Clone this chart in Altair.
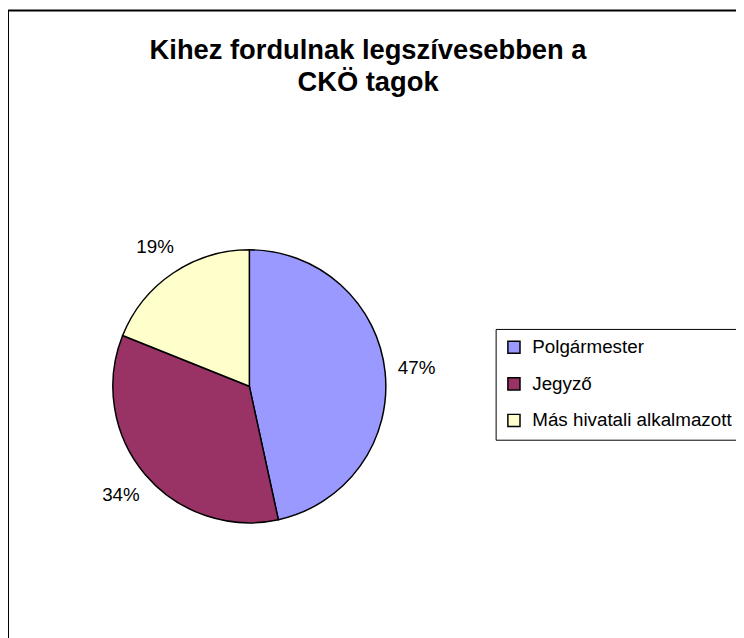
import altair as alt
import pandas as pd

# Data
categories = ["Polgármester", "Jegyző", "Más hivatali alkalmazott"]
values = [46.5, 34.4, 18.9]
labels = ["47%", "34%", "19%"]
colors = ["#9999FF", "#993366", "#FFFFCC"]
order = [0, 1, 2]

title_lines = ["Kihez fordulnak legszívesebben a", "CKÖ tagok"]

df = pd.DataFrame({"cat": categories, "value": values, "label": labels, "order": order})

FONT = "Liberation Sans"
CX, CY = 244, 379

base = alt.Chart(df).encode(
    theta=alt.Theta("value:Q", stack=True),
    order=alt.Order("order:Q"),
)

pie = base.mark_arc(radius=138, stroke="black", strokeWidth=1.5).encode(
    color=alt.Color(
        "cat:N",
        sort=categories,
        scale=alt.Scale(domain=categories, range=colors),
        legend=alt.Legend(
            orient="none",
            legendX=493,
            legendY=321,
            title=None,
            symbolType="square",
            symbolSize=150,
            symbolStrokeColor="black",
            symbolStrokeWidth=1.5,
            symbolOpacity=1,
            labelFontSize=19,
            labelFont=FONT,
            labelColor="black",
            labelLimit=0,
            labelOffset=9,
            rowPadding=17,
            padding=9,
            strokeColor="black",
            fillColor="white",
        ),
    ),
    x=alt.value(CX),
    y=alt.value(CY),
)

text = base.mark_text(radius=170, fontSize=19, font=FONT, color="black").encode(
    text="label:N",
    x=alt.value(CX),
    y=alt.value(CY),
)

border = alt.Chart(pd.DataFrame({"a": [0]})).mark_rect(
    fill=None, stroke="black", strokeWidth=2
).encode(
    x=alt.value(0), x2=alt.value(900), y=alt.value(-1), y2=alt.value(900)
)

chart = alt.layer(border, pie, text).properties(
    width=736,
    height=630,
    autosize=alt.AutoSizeParams(type="none"),
    padding=0,
    title=alt.Title(
        title_lines,
        font=FONT,
        fontSize=27.6,
        fontWeight="bold",
        color="black",
        lineHeight=32,
        anchor="middle",
        frame="group",
        baseline="top",
        offset=0,
        dx=-4,
        dy=88,
    ),
).configure_view(stroke=None)

chart.save("out.html", embed_options={"renderer": "svg", "actions": False})
